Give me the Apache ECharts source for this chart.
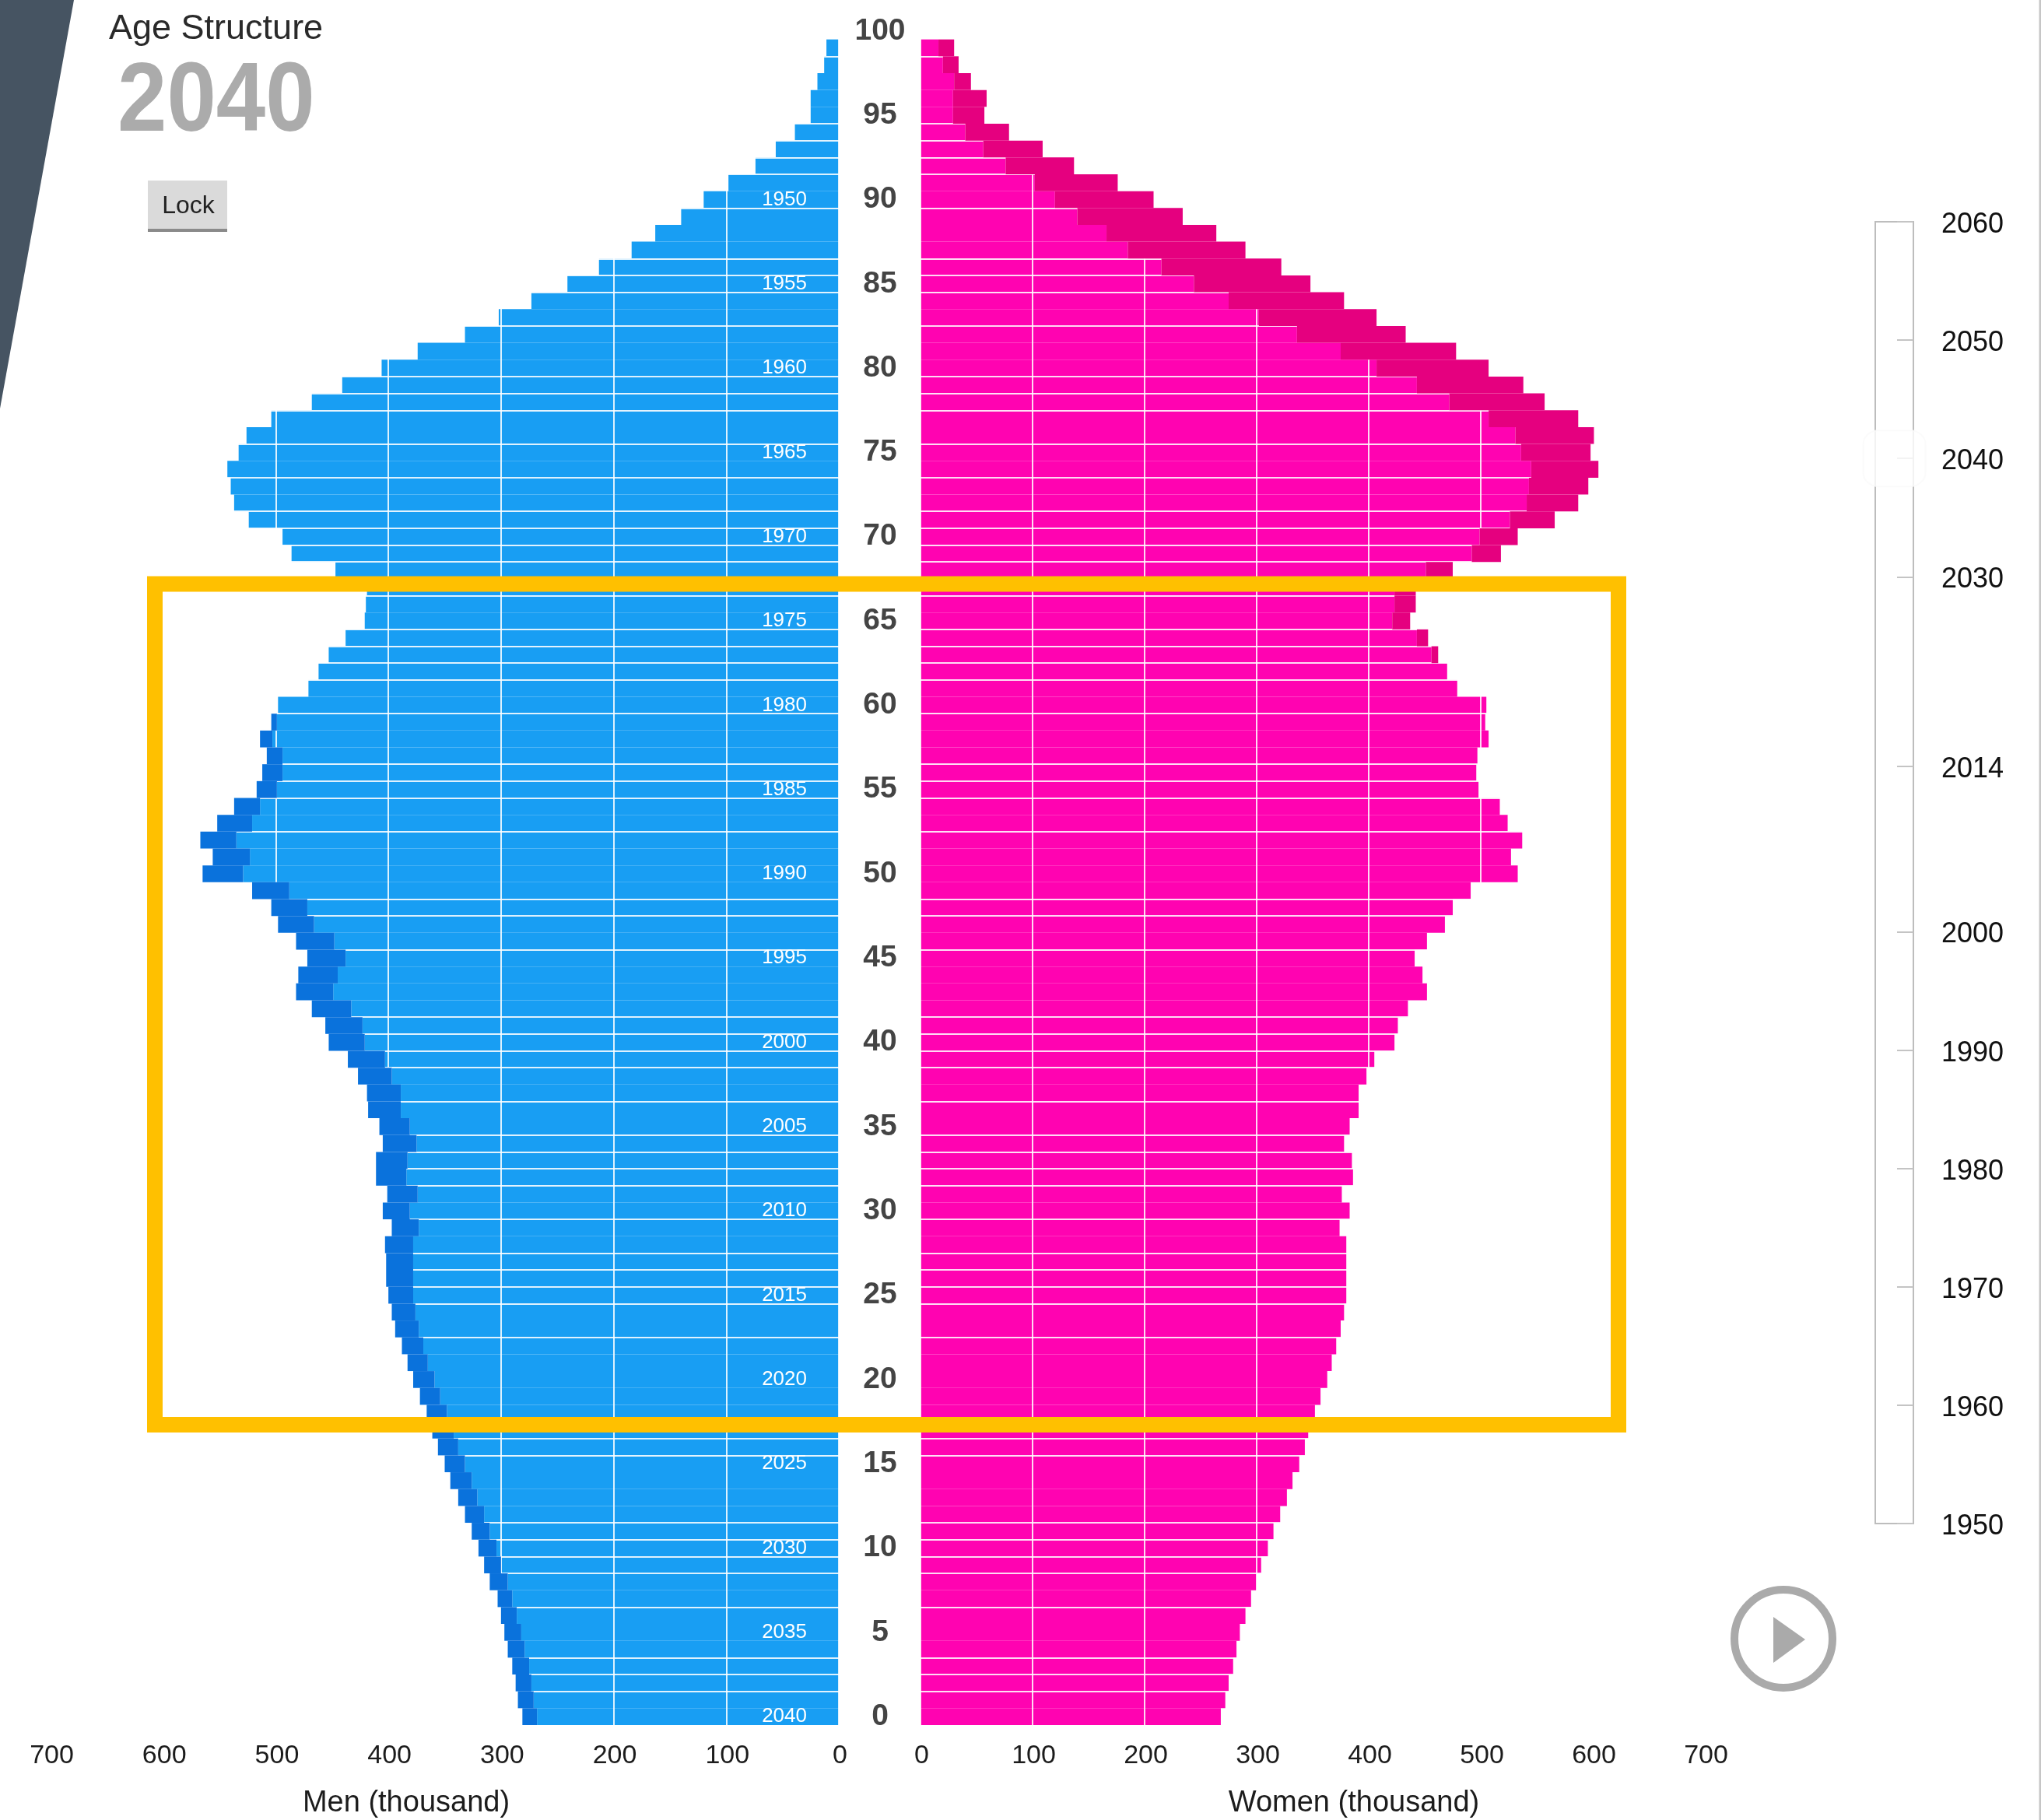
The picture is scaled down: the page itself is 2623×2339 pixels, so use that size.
<!DOCTYPE html>
<html><head><meta charset="utf-8">
<style>html,body{margin:0;padding:0;background:#fff}#c{width:2623px;height:2339px}</style>
<script src="https://cdn.jsdelivr.net/npm/echarts@6/dist/echarts.min.js"></script>
</head><body><div id="c"></div>
<script>
// index 0 = age 0 ... index 100 = age 100
const ages = Array.from({length:101},(_,i)=>String(i));
const birthYearLabels = ages.map(a=>+a<=90 && +a%5===0 ? String(2040-(+a)) : '');
const menOuter = [281,285,287,290,294,297,300,303,310,315,
320,326,332,338,345,350,356,361,366,372,
378,383,388,394,397,400,402,402,403,397,
405,401,411,411,405,408,418,419,427,436,
453,456,468,482,480,472,482,498,504,521,
565,556,567,552,537,517,512,508,514,504,
498,471,462,453,438,421,420,419,447,486,
494,524,537,540,543,533,526,504,468,441,
406,374,332,302,273,241,213,184,163,140,
120,98,74,56,39,25,25,19,13,11,0];
const menInner = [268,271,273,275,279,282,286,290,294,300,
304,310,315,321,326,332,338,342,348,354,
359,365,369,373,376,378,378,378,378,373,
381,374,384,383,375,381,389,389,397,403,
421,423,433,449,445,438,448,466,472,488,
529,523,535,521,514,499,494,494,503,499,
498,471,462,453,438,421,420,419,447,486,
494,524,537,540,543,533,526,504,468,441,
406,374,332,302,273,241,213,184,163,140,
120,98,74,56,39,25,25,19,13,11,0];
const womenOuter = [268,272,275,279,282,285,290,295,300,304,
310,315,321,327,332,338,343,346,352,357,
363,367,371,375,378,380,380,380,380,374,
383,376,386,385,378,383,391,391,398,405,
423,426,435,452,448,441,452,468,475,491,
533,527,537,524,517,498,496,497,507,504,
505,479,470,462,453,437,442,442,475,518,
533,566,587,596,605,598,601,587,557,538,
507,478,433,407,378,348,322,290,264,234,
208,176,137,109,79,57,59,45,34,30,0];
const womenInner = [268,272,275,279,282,285,290,295,300,304,
310,315,321,327,332,338,343,346,352,357,
363,367,371,375,378,380,380,380,380,374,
383,376,386,385,378,383,391,391,398,405,
423,426,435,452,448,441,452,468,475,491,
533,527,537,524,517,498,496,497,507,504,
505,479,470,456,443,421,423,423,451,492,
499,526,541,543,545,536,531,507,472,443,
407,375,336,302,275,244,215,185,166,140,
120,102,76,56,40,29,29,30,20,16,0];
// row boundaries that show as white separators (boundary below the given age)
const separatorRows = [2,3,4,7,9,10,11,12,16,17,23,25,26,27,28,30,32,33,34,35,37,39,40,41,42,46,48,49,53,55,56,57,60,62,63,64,65,67,69,70,71,72,74,76,78,79,80,83,85,86,87,90,92,93,94,95,99];
const sliderYears = [1950,1960,1970,1980,1990,2000,2014,2030,2040,2050,2060];
const selectedYear = 2040;
const titleText = 'Age Structure';
const yearText = '2040';
const menAxisName = 'Men (thousand)';
const womenAxisName = 'Women (thousand)';

const FONT = '"Liberation Sans", Arial, sans-serif';
const BLUE='#189ef3', BLUE_D='#0a72dc', PINK='#ff03b1', PINK_D='#e5007f';
const sepSet = new Set(separatorRows);
const hLine = {show:true, interval:(i)=>sepSet.has(i), lineStyle:{color:'#fff',width:2,opacity:.85}};
const vLine = {show:true, lineStyle:{color:'#fff',width:2,opacity:.85}};
const xLabel = {fontFamily:FONT,fontSize:34,color:'#1c1c1c',margin:23,padding:[0,0,0,3]};
const diff = (o,i)=>o.map((v,k)=>Math.max(0,v-i[k]));
const GT=29, GH=2188;

const chart = echarts.init(document.getElementById('c'),null,{width:2623,height:2339,renderer:'canvas'});
chart.setOption({
  animation:false,
  backgroundColor:'#fff',
  grid:[
    {left:65,width:1013,top:GT,height:GH},
    {left:1183,width:1008,top:GT,height:GH},
    {left:2410,width:49,top:285,height:1673,show:true,borderColor:'#bdbdbd',borderWidth:2,backgroundColor:'#fff'}
  ],
  xAxis:[
    {gridIndex:0,type:'value',inverse:true,min:0,max:700,interval:100,z:3,
      axisLine:{show:false},axisTick:{show:false},axisLabel:xLabel,splitLine:vLine},
    {gridIndex:1,type:'value',min:0,max:700,interval:100,z:3,
      axisLine:{show:false},axisTick:{show:false},axisLabel:xLabel,splitLine:vLine},
    {gridIndex:2,type:'value',min:0,max:1,show:false}
  ],
  yAxis:[
    {gridIndex:0,type:'category',position:'right',data:birthYearLabels,z:3,
      axisLine:{show:false,onZero:false},axisTick:{show:false},splitLine:hLine,
      axisLabel:{interval:4,inside:true,margin:41,fontFamily:FONT,fontSize:26,color:'#fff'}},
    {gridIndex:1,type:'category',position:'left',data:ages,z:3,
      axisLine:{show:false,onZero:false},axisTick:{show:false},splitLine:hLine,
      axisLabel:{interval:4,margin:52,align:'center',fontFamily:FONT,fontSize:39,fontWeight:'bold',color:'#444'}},
    {gridIndex:2,type:'value',position:'right',min:1950,max:2060,interval:10,z:3,
      axisLine:{show:false,onZero:false},splitLine:{show:false},
      axisTick:{show:true,inside:true,length:21,customValues:sliderYears,lineStyle:{color:'#c4c4c4',width:2}},
      axisLabel:{customValues:sliderYears,formatter:(v)=>String(v),margin:76,align:'center',verticalAlign:'top',lineHeight:8,fontFamily:FONT,fontSize:36,color:'#111',showMinLabel:true,showMaxLabel:true}}
  ],
  series:[
    {name:'Men',type:'bar',xAxisIndex:0,yAxisIndex:0,stack:'m',barCategoryGap:0,z:2,data:menInner,itemStyle:{color:BLUE}},
    {name:'Men upper',type:'bar',xAxisIndex:0,yAxisIndex:0,stack:'m',barCategoryGap:0,z:4,data:diff(menOuter,menInner),itemStyle:{color:BLUE_D}},
    {name:'Women',type:'bar',xAxisIndex:1,yAxisIndex:1,stack:'w',barCategoryGap:0,z:2,data:womenInner,itemStyle:{color:PINK}},
    {name:'Women upper',type:'bar',xAxisIndex:1,yAxisIndex:1,stack:'w',barCategoryGap:0,z:4,data:diff(womenOuter,womenInner),itemStyle:{color:PINK_D}},
    {name:'Selected year',type:'scatter',xAxisIndex:2,yAxisIndex:2,z:5,symbol:'roundRect',symbolSize:[80,72],clip:false,
      data:[[0.5,selectedYear]],itemStyle:{color:'#ffffff',borderColor:'#fafafa',borderWidth:2}}
  ],
  graphic:[
    {type:'polygon',z:50,shape:{points:[[0,0],[95,0],[0,525]]},style:{fill:'#465462'}},
    {type:'text',z:50,x:140,y:38,style:{text:titleText,font:'45px '+FONT,fill:'#2a2a2a',textVerticalAlign:'middle',textBaseline:'middle'}},
    {type:'text',z:50,x:151,y:133,scaleY:1.1,originY:0,style:{text:yearText,font:'bold 114px '+FONT,fill:'#ababab',textBaseline:'middle',textVerticalAlign:'middle'}},
    {type:'rect',z:50,shape:{x:190,y:232,width:102,height:66},style:{fill:'#dadada',stroke:null}},
    {type:'rect',z:51,shape:{x:190,y:294,width:102,height:4},style:{fill:'#8a8a8a'}},
    {type:'text',z:52,x:242,y:265,style:{text:'Lock',font:'32px '+FONT,fill:'#222',textAlign:'center',textBaseline:'middle',textVerticalAlign:'middle'}},
    {type:'text',z:50,x:522,y:2318,style:{text:menAxisName,font:'38px '+FONT,fill:'#1c1c1c',textAlign:'center',textBaseline:'middle',textVerticalAlign:'middle'}},
    {type:'text',z:50,x:1740,y:2318,style:{text:womenAxisName,font:'38px '+FONT,fill:'#1c1c1c',textAlign:'center',textBaseline:'middle',textVerticalAlign:'middle'}},
    {type:'rect',z:60,shape:{x:199,y:750.5,width:1881,height:1080.5},style:{fill:null,stroke:'#ffc000',lineWidth:20}},
    {type:'circle',z:50,shape:{cx:2292,cy:2106,r:63},style:{fill:'#fff',stroke:'#aaaaaa',lineWidth:10}},
    {type:'polygon',z:51,shape:{points:[[2279,2078],[2320,2107],[2279,2137]]},style:{fill:'#aaaaaa'}},
    {type:'rect',z:50,shape:{x:2620.5,y:0,width:2.5,height:2339},style:{fill:'#c6c6c6'}}
  ]
});
</script></body></html>
